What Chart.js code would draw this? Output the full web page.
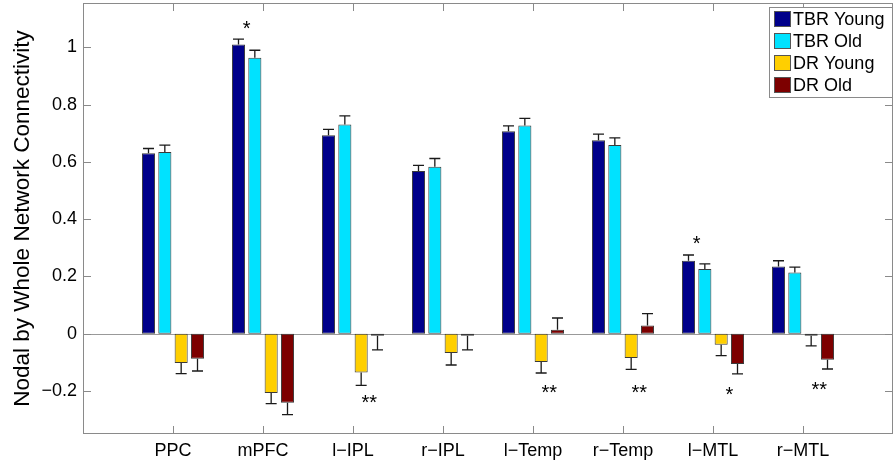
<!DOCTYPE html>
<html>
<head>
<meta charset="utf-8">
<script src="https://cdn.jsdelivr.net/npm/chart.js@4.4.1/dist/chart.umd.min.js"></script>
<style>
  body { margin: 0; background: #fff; }
  #wrap { width: 894px; height: 463px; }
</style>
</head>
<body>
<div id="wrap"><canvas id="myChart" width="894" height="463"></canvas></div>
<script>
// regions on the x axis
const regions = ["PPC", "mPFC", "l\u2212IPL", "r\u2212IPL", "l\u2212Temp", "r\u2212Temp", "l\u2212MTL", "r\u2212MTL"];
const yTicks = [-0.2, 0, 0.2, 0.4, 0.6, 0.8, 1];

// series names + colours
const seriesNames = ["TBR Young", "TBR Old", "DR Young", "DR Old"];
const seriesColors = ["#00008a", "#00e2ff", "#ffcf00", "#7d0000"];

// mean values
const tbrYoung = [0.63, 1.01, 0.693, 0.568, 0.707, 0.676, 0.255, 0.235];
const tbrOld = [0.635, 0.964, 0.731, 0.583, 0.727, 0.659, 0.226, 0.214];
const drYoung = [-0.102, -0.207, -0.135, -0.067, -0.099, -0.085, -0.038, -0.007];
const drOld = [-0.087, -0.241, -0.007, -0.007, 0.014, 0.029, -0.106, -0.091];

// standard errors (one sided, drawn away from zero)
const tbrYoungErr = [0.017, 0.019, 0.021, 0.02, 0.019, 0.021, 0.02, 0.02];
const tbrOldErr = [0.024, 0.026, 0.03, 0.029, 0.025, 0.025, 0.018, 0.019];
const drYoungErr = [0.037, 0.037, 0.045, 0.042, 0.038, 0.039, 0.038, 0.035];
const drOldErr = [0.043, 0.041, 0.049, 0.049, 0.041, 0.041, 0.034, 0.032];

// significance marks: region index, text, y value, which pair of bars
const starRegion = [1, 6, 2, 4, 5, 6, 7];
const starText = ["*", "*", "**", "**", "**", "*", "**"];
const starValue = [1.08, 0.331, -0.223, -0.188, -0.188, -0.195, -0.178];
const starPair = ["tbr", "tbr", "dr", "dr", "dr", "dr", "dr"];

const seriesValues = [tbrYoung, tbrOld, drYoung, drOld];
const seriesErrors = [tbrYoungErr, tbrOldErr, drYoungErr, drOldErr];

const fontFamily = "'Liberation Sans', Arial, Helvetica, sans-serif";
const axisGray = "#8a8a8a";

// box around the axes + inward tick marks on all four sides
const axesBox = {
  id: "axesBox",
  beforeDatasetsDraw(chart) {
    const { ctx, chartArea: a, scales } = chart;
    ctx.save();
    // zero line
    const y0 = scales.y.getPixelForValue(0);
    ctx.strokeStyle = "#999";
    ctx.lineWidth = 1;
    ctx.beginPath();
    ctx.moveTo(a.left, Math.round(y0) + 0.5);
    ctx.lineTo(a.right, Math.round(y0) + 0.5);
    ctx.stroke();
    ctx.restore();
  },
  afterDraw(chart) {
    const { ctx, chartArea: a, scales } = chart;
    ctx.save();
    ctx.strokeStyle = axisGray;
    ctx.lineWidth = 1;
    ctx.strokeRect(a.left + 0.5, a.top + 0.5, a.right - a.left - 1, a.bottom - a.top - 1);
    ctx.beginPath();
    yTicks.forEach((t) => {
      const py = Math.round(scales.y.getPixelForValue(t)) + 0.5;
      ctx.moveTo(a.left, py);
      ctx.lineTo(a.left + 8, py);
      ctx.moveTo(a.right, py);
      ctx.lineTo(a.right - 8, py);
    });
    regions.forEach((r, i) => {
      const px = Math.round(scales.x.getPixelForValue(i + 1)) + 0.5;
      ctx.moveTo(px, a.bottom);
      ctx.lineTo(px, a.bottom - 8);
      ctx.moveTo(px, a.top);
      ctx.lineTo(px, a.top + 8);
    });
    ctx.stroke();
    ctx.restore();
  }
};

const errorBars = {
  id: "errorBars",
  afterDatasetsDraw(chart) {
    const ctx = chart.ctx;
    const yScale = chart.scales.y;
    ctx.save();
    ctx.strokeStyle = "#1a1a1a";
    ctx.lineWidth = 1.3;
    chart.data.datasets.forEach((ds, i) => {
      chart.getDatasetMeta(i).data.forEach((bar, j) => {
        const v = seriesValues[i][j];
        const e = seriesErrors[i][j];
        const tip = yScale.getPixelForValue(v < 0 ? v - e : v + e);
        ctx.beginPath();
        ctx.moveTo(bar.x, bar.y);
        ctx.lineTo(bar.x, tip);
        ctx.moveTo(bar.x - 5.5, tip);
        ctx.lineTo(bar.x + 5.5, tip);
        ctx.stroke();
      });
    });
    ctx.restore();
  }
};

const stars = {
  id: "stars",
  afterDatasetsDraw(chart) {
    const ctx = chart.ctx;
    const yScale = chart.scales.y;
    ctx.save();
    ctx.fillStyle = "#000";
    ctx.font = "20px " + fontFamily;
    ctx.textAlign = "center";
    ctx.textBaseline = "alphabetic";
    starRegion.forEach((r, k) => {
      const a = starPair[k] === "tbr" ? 0 : 2;
      const b1 = chart.getDatasetMeta(a).data[r];
      const b2 = chart.getDatasetMeta(a + 1).data[r];
      const x = (b1.x + b2.x) / 2;
      const y = yScale.getPixelForValue(starValue[k]);
      ctx.fillText(starText[k], x, y + 11);
    });
    ctx.restore();
  }
};

const boxLegend = {
  id: "boxLegend",
  afterDraw(chart) {
    const { ctx, chartArea: a } = chart;
    const w = 123, h = 90;
    const x0 = a.right - w - 1, y0 = a.top + 4;
    ctx.save();
    ctx.fillStyle = "#fff";
    ctx.fillRect(x0, y0, w, h);
    ctx.strokeStyle = axisGray;
    ctx.lineWidth = 1;
    ctx.strokeRect(x0 + 0.5, y0 + 0.5, w, h);
    ctx.font = "18px " + fontFamily;
    ctx.textBaseline = "middle";
    ctx.textAlign = "left";
    chart.data.datasets.forEach((ds, i) => {
      const cy = y0 + 12 + i * 22;
      ctx.fillStyle = ds.backgroundColor;
      ctx.fillRect(x0 + 5, cy - 8, 17, 16);
      ctx.strokeStyle = "#555";
      ctx.strokeRect(x0 + 5.5, cy - 7.5, 16, 15);
      ctx.fillStyle = "#000";
      ctx.fillText(ds.label, x0 + 24, cy + 1);
    });
    ctx.restore();
  }
};

const ctx = document.getElementById("myChart").getContext("2d");

new Chart(ctx, {
  type: "bar",
  data: {
    datasets: seriesNames.map((name, i) => ({
      label: name,
      data: seriesValues[i].map((v, j) => ({ x: j + 1, y: v })),
      backgroundColor: seriesColors[i],
      borderColor: "#3a3a3a",
      borderWidth: 1,
      borderSkipped: false,
      categoryPercentage: 0.726,
      barPercentage: 0.8
    }))
  },
  options: {
    responsive: false,
    animation: false,
    layout: { padding: { top: 3, right: 1, left: 0, bottom: 0 } },
    plugins: {
      legend: { display: false },
      tooltip: { enabled: false }
    },
    scales: {
      x: {
        type: "linear",
        min: 0,
        max: 9,
        offset: false,
        grid: { display: false, drawTicks: false },
        border: { display: false },
        afterBuildTicks: (s) => {
          s.ticks = regions.map((r, i) => ({ value: i + 1 }));
        },
        ticks: {
          autoSkip: false,
          maxRotation: 0,
          padding: 6,
          color: "#000",
          font: { family: fontFamily, size: 18 },
          callback: (v) => regions[v - 1]
        },
        afterFit: (s) => {
          s.height = 29;
          s.paddingLeft = 0;
          s.paddingRight = 0;
        }
      },
      y: {
        min: -0.35,
        max: 1.155,
        grid: { display: false, drawTicks: false },
        border: { display: false },
        afterBuildTicks: (s) => {
          s.ticks = yTicks.map((t) => ({ value: t }));
        },
        ticks: {
          padding: 6,
          color: "#000",
          font: { family: fontFamily, size: 18 },
          callback: (v) => (v < 0 ? "\u2212" + String(+(-v).toFixed(1)) : String(+v.toFixed(1)))
        },
        title: {
          display: true,
          text: "Nodal by Whole Network Connectivity",
          color: "#000",
          font: { family: fontFamily, size: 22.5 },
          padding: { top: 9, bottom: 0 }
        },
        afterFit: (s) => {
          s.width = 83;
          s.paddingTop = 0;
          s.paddingBottom = 0;
        }
      }
    }
  },
  plugins: [axesBox, errorBars, stars, boxLegend]
});
</script>
</body>
</html>
